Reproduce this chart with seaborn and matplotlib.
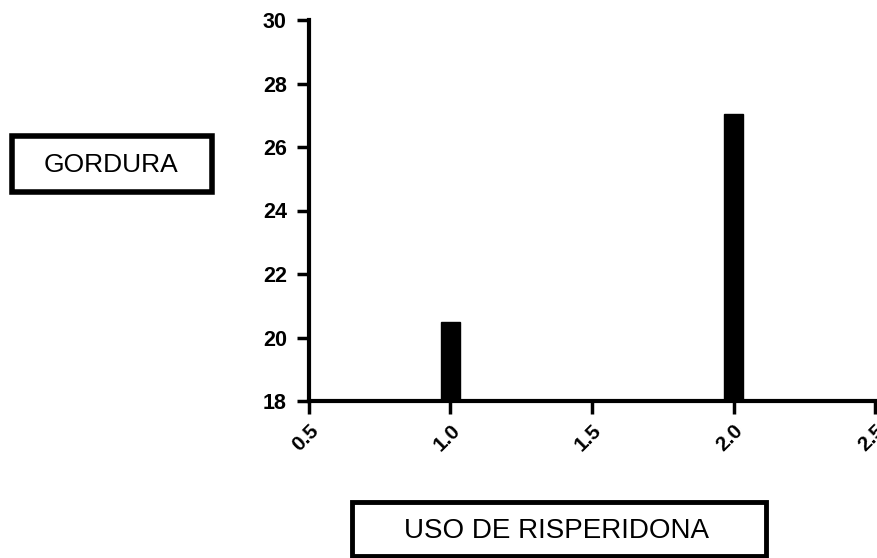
import matplotlib
matplotlib.use("Agg")
import matplotlib.pyplot as plt
from matplotlib.patches import Rectangle
import seaborn as sns
import pandas as pd

# data
uso = [1.0, 2.0]
gordura = [20.5, 27.05]
xticks = [0.5, 1.0, 1.5, 2.0, 2.5]
yticks = [18, 20, 22, 24, 26, 28, 30]

sns.set_theme(style="ticks")
plt.rcParams['font.family'] = ['Liberation Sans', 'DejaVu Sans']

df = pd.DataFrame({"uso": uso, "gordura": gordura})

W, H = 878, 558
fig = plt.figure(figsize=(W / 100, H / 100), dpi=100)
ax = fig.add_axes([309 / W, 1 - 401 / H, (875 - 309) / W, (401 - 20) / H])

sns.barplot(data=df, x="uso", y="gordura", native_scale=True, width=0.07,
            color="black", saturation=1, ax=ax, errorbar=None,
            edgecolor="black")

ax.set_xlim(0.5, 2.5)
ax.set_ylim(18, 30)
ax.set_xticks(xticks)
ax.set_xticklabels([f"{t:.1f}" for t in xticks], rotation=45, ha="right",
                   rotation_mode="anchor", fontweight="bold", fontsize=15)
ax.set_yticks(yticks)
ax.set_yticklabels([str(t) for t in yticks], fontweight="bold", fontsize=15.5)
ax.set_xlabel("")
ax.set_ylabel("")
for s in ["top", "right"]:
    ax.spines[s].set_visible(False)
for s in ["left", "bottom"]:
    ax.spines[s].set_linewidth(3)
    ax.spines[s].set_color("black")
ax.tick_params(axis="both", length=9, width=2.5, color="black",
               labelcolor="black")
ax.tick_params(axis="y", pad=7)
ax.tick_params(axis="x", pad=5)


def box(x0, y0, x1, y1, lw):
    fig.patches.append(Rectangle((x0 / W, 1 - y1 / H), (x1 - x0) / W,
                                 (y1 - y0) / H, transform=fig.transFigure,
                                 facecolor="white", edgecolor="black",
                                 linewidth=lw, zorder=1))


box(12, 136, 212, 192, 4)
fig.text(111 / W, 1 - 165 / H, "GORDURA", fontsize=19, ha="center",
         va="center", color="black", zorder=2)

box(352, 502, 766, 556, 3.5)
fig.text(556 / W, 1 - 531 / H, "USO DE RISPERIDONA", fontsize=20,
         ha="center", va="center", color="black", zorder=2)

fig.savefig("out.png", dpi=100)
